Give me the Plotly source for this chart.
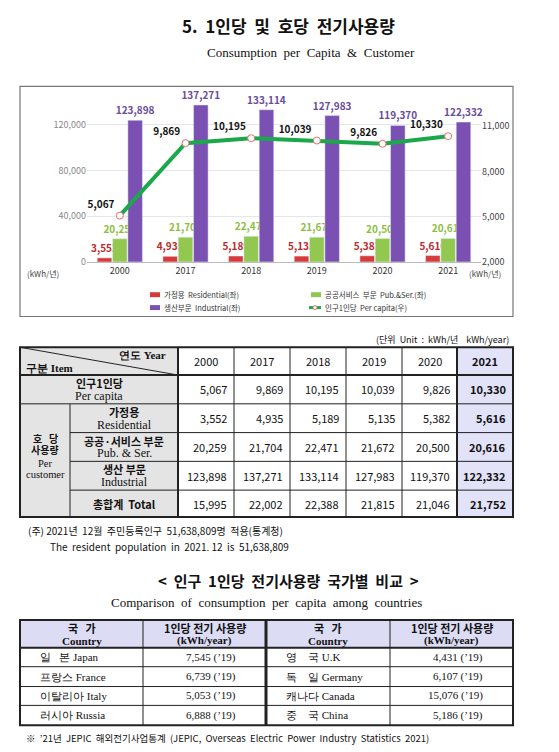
import plotly.graph_objects as go

W, H = 559, 752

years = ['2000', '2017', '2018', '2019', '2020', '2021']
residential = [3552, 4935, 5189, 5135, 5382, 5616]
pub_ser = [20259, 21704, 22471, 21672, 20500, 20616]
industrial = [123898, 137271, 133114, 127983, 119370, 122332]
per_capita = [5067, 9869, 10195, 10039, 9826, 10330]
total = [15995, 22002, 22388, 21815, 21046, 21752]

countries_l = ['일   본 Japan', '프랑스 France', '이탈리아 Italy', '러시아 Russia']
values_l = ['7,545 (’19)', '6,739 (’19)', '5,053 (’19)', '6,888 (’19)']
countries_r = ['영    국 U.K', '독    일 Germany', '캐나다 Canada', '중    국 China']
values_r = ['4,431 (’19)', '6,107 (’19)', '15,076 (’19)', '5,186 (’19)']

KR = 'Noto Sans CJK KR'
SERIF = 'Liberation Serif'


def px(x):
    return x / W


def py(y):
    return 1 - y / H


shapes = []
annots = []


def rect(x0, y0, x1, y1, fill=None, lw=1, color='#222'):
    shapes.append(dict(type='rect', xref='paper', yref='paper', x0=px(x0), x1=px(x1),
                       y0=py(y1), y1=py(y0), fillcolor=fill or 'rgba(0,0,0,0)',
                       line=dict(width=lw, color=color), layer='below'))


def line(x0, y0, x1, y1, lw=1, color='#222'):
    shapes.append(dict(type='line', xref='paper', yref='paper', x0=px(x0), x1=px(x1),
                       y0=py(y0), y1=py(y1), line=dict(width=lw, color=color)))


def text(x, y, s, size=11, font=KR, color='#111', xanchor='center', bold=False):
    if bold:
        s = '<b>' + s + '</b>'
    annots.append(dict(xref='paper', yref='paper', x=px(x), y=py(y), text=s, showarrow=False,
                       xanchor=xanchor, yanchor='middle',
                       font=dict(size=size, family=font, color=color)))


fig = go.Figure()

bar_common = dict(textposition='outside', cliponaxis=False, constraintext='none')
fig.add_trace(go.Bar(x=years, y=residential, name='가정용 Residential(좌)', marker_color='#d63a3a',
                     text=[f'<b>{v:,}</b>' for v in residential],
                     textfont=dict(color='#c0272d', size=10, family=KR), **bar_common))
fig.add_trace(go.Bar(x=years, y=pub_ser, name='공공서비스 부문 Pub.&Ser.(좌)', marker_color='#92c850',
                     text=[f'<b>{v:,}</b>' for v in pub_ser],
                     textfont=dict(color='#8cbf3f', size=10, family=KR), **bar_common))
fig.add_trace(go.Bar(x=years, y=industrial, name='생산부문 Industrial(좌)', marker_color='#7a51b3',
                     text=[f'<b>{v:,}</b>' for v in industrial],
                     textfont=dict(color='#6b4c9a', size=10, family=KR), **bar_common))
fig.add_trace(go.Scatter(x=years, y=per_capita, yaxis='y2', name='인구1인당 Per capita(우)',
                         mode='lines+markers+text', line=dict(color='#1aa84a', width=4),
                         marker=dict(size=7, color='white', line=dict(color='#e07070', width=1)),
                         text=[f'<b>{v:,}</b>' for v in per_capita], textposition='top left',
                         textfont=dict(color='#111', size=10, family=KR), cliponaxis=False))

# chart frame
rect(12, 79, 505, 311, lw=1.2, color='#777')

# legend drawn by hand
leg = [(152, 289, '#d63a3a', '가정용  Residential(좌)', 'bar'),
       (313, 289, '#92c850', '공공서비스  부문  Pub.&Ser.(좌)', 'bar'),
       (152, 302, '#7a51b3', '생산부문  Industrial(좌)', 'bar'),
       (313, 302, '#1aa84a', '인구1인당  Per capita(우)', 'line')]
for x, y, c, s, k in leg:
    if k == 'bar':
        rect(x - 10, y - 2.5, x, y + 2.5, fill=c, lw=0, color=c)
    else:
        line(x - 12, y, x, y, lw=3, color=c)
        shapes.append(dict(type='circle', xref='paper', yref='paper', x0=px(x - 8), x1=px(x - 4),
                           y0=py(y + 2), y1=py(y - 2), fillcolor='white', line=dict(color='#e07070', width=1)))
    text(x + 2, y, s, size=7.5, color='#333', xanchor='left')

text(35, 268, '(kWh/년)', size=8, color='#444')
text(477, 268, '(kWh/년)', size=8, color='#444')

# titles
text(280, 18, '5.  1인당  및  호당  전기사용량', size=17, bold=True)
text(303, 45, 'Consumption  per  Capita  &  Customer', size=13, font=SERIF)

# ---- table 1 ----
ys = [342, 370, 399, 428, 457, 486, 513]
xs = [12, 62, 170, 226, 282, 338, 394, 449, 505]
text(503, 334, '(단위  Unit  :  kWh/년    kWh/year)', size=9, xanchor='right')
rect(12, 342, 170, 513, fill='#e4e4e4', lw=0)
rect(449, 342, 505, 513, fill='#e2e2f8', lw=0)
for y in ys[1:-1]:
    line(12 if y in (370, 399) else 62, y, 505, y, lw=2 if y == 370 else 1)
for x in xs[3:-1]:
    line(x, 342, x, 513, lw=1)
line(62, 399, 62, 513)
line(170, 342, 170, 513, lw=2)
line(449, 342, 449, 513, lw=2)
line(12, 342, 170, 370)
rect(12, 342, 505, 513, lw=2)

text(160, 350, '연도 Year', size=11, font=SERIF, bold=True, xanchor='right')
text(16, 363, '구분 Item', size=11, font=SERIF, bold=True, xanchor='left')
for i, yv in enumerate(years):
    text((xs[i + 2] + xs[i + 3]) / 2, 356, yv, size=11, bold=(yv == '2021'))

labels = [('인구1인당', 'Per capita'), ('가정용', 'Residential'), ('공공·서비스 부문', 'Pub. & Ser.'),
          ('생산 부문', 'Industrial')]
for r, (k, e) in enumerate(labels):
    cx = 91 if r == 0 else 116
    text(cx, ys[r + 1] + 8, k, size=11, bold=True)
    text(cx, ys[r + 1] + 21, e, size=12, font=SERIF)
text(116, (486 + 513) / 2, '총합계  Total', size=11, bold=True)
for j, s in enumerate(['호   당', '사용량']):
    text(37, 434 + 11 * j, s, size=10, bold=True)
for j, s in enumerate(['Per', 'customer']):
    text(37, 459 + 11 * j, s, size=10.5, font=SERIF)

rows = [per_capita, residential, pub_ser, industrial, total]
for r, vals in enumerate(rows):
    yc = (ys[r + 1] + ys[r + 2]) / 2
    for i, v in enumerate(vals):
        text(xs[i + 3] - 5, yc, f'{v:,}', size=11, xanchor='right', bold=(i == 5))

text(18, 527, '(주) 2021년  12월  주민등록인구  51,638,809명  적용(통계청)', size=10, xanchor='left')
text(40, 543, 'The  resident  population  in  2021. 12  is  51,638,809', size=10, xanchor='left')

# ---- table 2 ----
text(280, 577, '<  인구  1인당  전기사용량  국가별  비교  >', size=15, bold=True)
text(258, 599, 'Comparison  of  consumption  per  capita  among  countries', size=13, font=SERIF)
cy = [617, 645, 664, 684, 703, 723]
cx = [12, 135, 258, 382, 505]
rect(12, 617, 505, 645, fill='#dcdcf5', lw=0)
for y in cy[1:-1]:
    line(12, y, 505, y, lw=2 if y == 645 else 1)
line(135, 617, 135, 723)
line(382, 617, 382, 723)
line(258, 617, 258, 723, lw=3)
rect(12, 617, 505, 723, lw=2)
for base in (0, 2):
    text((cx[base] + cx[base + 1]) / 2, 625, '국   가', size=11, bold=True)
    text((cx[base] + cx[base + 1]) / 2, 638, 'Country', size=11, font=SERIF, bold=True)
    text((cx[base + 1] + cx[base + 2]) / 2, 625, '1인당 전기 사용량', size=11, bold=True)
    text((cx[base + 1] + cx[base + 2]) / 2, 638, '(kWh/year)', size=11, font=SERIF, bold=True)
for r in range(4):
    yc = (cy[r + 1] + cy[r + 2]) / 2
    text(30, yc, countries_l[r], size=11, font=SERIF, xanchor='left')
    text(230, yc, values_l[r], size=11, font=SERIF, xanchor='right')
    text(276, yc, countries_r[r], size=11, font=SERIF, xanchor='left')
    text(477, yc, values_r[r], size=11, font=SERIF, xanchor='right')

text(16, 736, '※  ’21년  JEPIC  해외전기사업통계  (JEPIC,  Overseas  Electric  Power  Industry  Statistics  2021)',
     size=9.5, xanchor='left')

fig.update_layout(
    width=W, height=H, margin=dict(l=0, r=0, t=0, b=0),
    paper_bgcolor='white', plot_bgcolor='white', showlegend=False,
    barmode='group', bargap=0.3, bargroupgap=0.05,
    xaxis=dict(domain=[px(79), px(473)], tickfont=dict(size=9, color='#333', family=KR),
               showline=True, linecolor='#bbb', ticks=''),
    yaxis=dict(range=[0, 144000], tickvals=[0, 40000, 80000, 120000], tickformat=',',
               domain=[py(256), py(90)], tickfont=dict(size=9, color='#888', family=KR),
               gridcolor='#e6e6e6', zeroline=False),
    yaxis2=dict(range=[2000, 12905], tickvals=[2000, 5000, 8000, 11000], tickformat=',',
                overlaying='y', side='right', showgrid=False,
                tickfont=dict(size=9, color='#444', family=KR)),
    shapes=shapes, annotations=annots,
)

fig.write_html('out.html')
